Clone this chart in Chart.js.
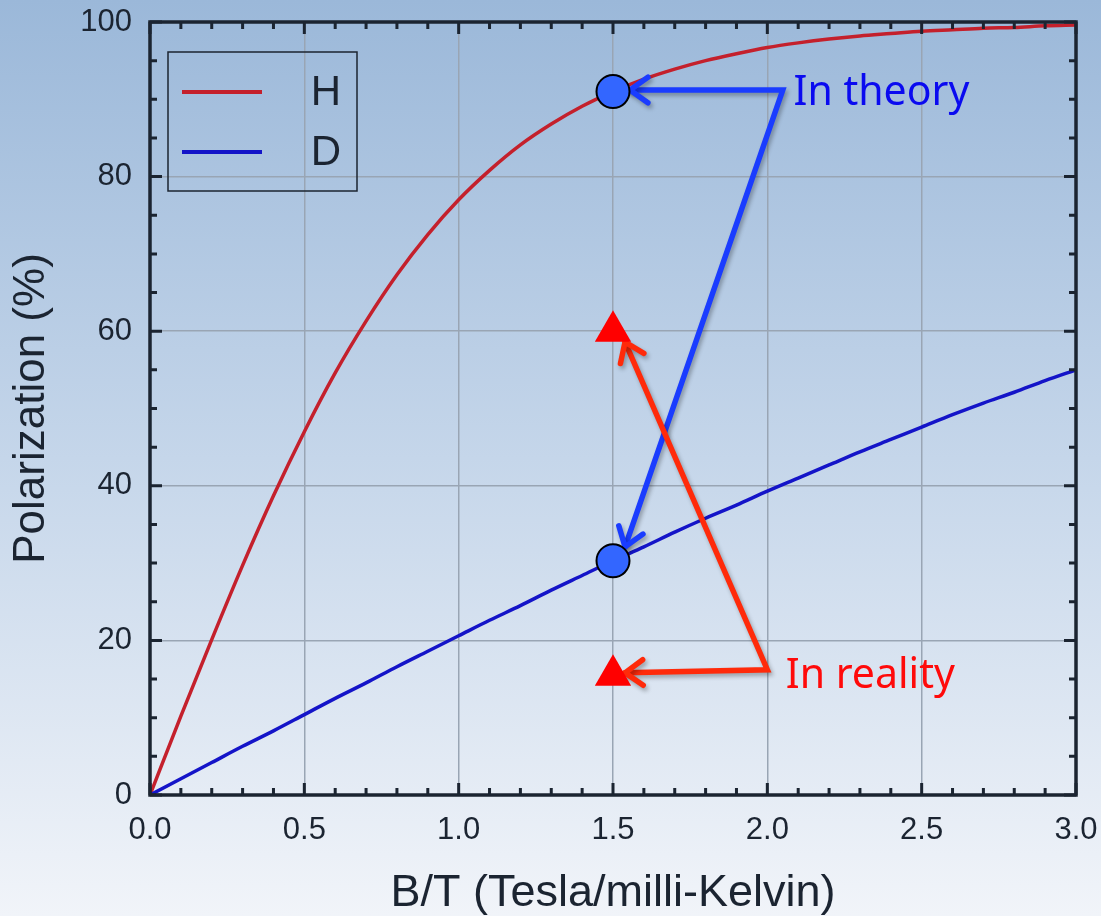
<!DOCTYPE html>
<html>
<head>
<meta charset="utf-8">
<script src="https://cdn.jsdelivr.net/npm/chart.js@4.4.1/dist/chart.umd.min.js"></script>
<style>
  html, body { margin: 0; padding: 0; background: #eef3f9; }
  #wrap { width: 1101px; height: 916px; }
</style>
</head>
<body>
<div id="wrap"><canvas id="polChart" width="1101" height="916"></canvas></div>
<script>
// B/T (Tesla per milli-Kelvin) and polarization (%) for H and D
const bt   = [0, 0.1, 0.2, 0.3, 0.4, 0.5, 0.6, 0.7, 0.8, 0.9, 1.0, 1.1, 1.2, 1.3, 1.4, 1.5,
              1.6, 1.7, 1.8, 1.9, 2.0, 2.1, 2.2, 2.3, 2.4, 2.5, 2.6, 2.7, 2.8, 2.9, 3.0];
const hPol = [0, 10.2, 20.1, 29.7, 38.7, 47.0, 54.6, 61.3, 67.3, 72.5, 77.0, 80.8, 84.1, 86.8, 89.1, 91.0,
              92.6, 93.9, 95.0, 95.9, 96.7, 97.3, 97.8, 98.2, 98.5, 98.8, 99.0, 99.2, 99.3, 99.5, 99.6];
const dPol = [0, 2.1, 4.2, 6.3, 8.3, 10.4, 12.5, 14.5, 16.6, 18.6, 20.6, 22.6, 24.5, 26.5, 28.4, 30.3,
              32.1, 34.0, 35.8, 37.5, 39.3, 41.0, 42.7, 44.4, 46.0, 47.6, 49.2, 50.7, 52.1, 53.6, 55.0];

// Marked points at 1.5 T/mK
const theoryB = [1.5, 1.5];
const theoryPol = [91.0, 30.3];
const realityB = [1.5, 1.5];
const realityPol = [60.0, 15.5];

// Axis ticks
const xTicks = [0, 0.5, 1.0, 1.5, 2.0, 2.5, 3.0];
const yTicks = [0, 20, 40, 60, 80, 100];

// Callout arrows (data units): tip, elbow, tip
const theoryArrow  = [[1.555, 91.2], [2.05, 91.2], [1.539, 32.1]];
const realityArrow = [[1.539, 15.8], [2.0, 16.2], [1.539, 58.6]];
const theoryLabel  = { text: 'In theory',  x: 2.085, y: 89.3, color: '#0a0af0' };
const realityLabel = { text: 'In reality', x: 2.06,  y: 13.8, color: '#ff0a0a' };

const INK = '#1b2431';
const AXIS_FONT = "'Liberation Sans', Arial, sans-serif";

const toXY = (xs, ys) => xs.map((x, i) => ({ x: x, y: ys[i] }));

// Slide style background
const background = {
    id: 'background',
    beforeDraw(chart) {
        const { ctx, width, height } = chart;
        const g = ctx.createLinearGradient(0, 0, 0, height);
        g.addColorStop(0, '#9bb8d9');
        g.addColorStop(0.5, '#c5d6ea');
        g.addColorStop(1, '#f1f4f9');
        ctx.save();
        ctx.fillStyle = g;
        ctx.fillRect(0, 0, width, height);
        ctx.restore();
    }
};

// Box around the plot with inward major/minor ticks on all four sides
const frame = {
    id: 'frame',
    afterDraw(chart) {
        const { ctx, chartArea: a, scales } = chart;
        ctx.save();
        ctx.strokeStyle = INK;
        ctx.lineWidth = 3;
        ctx.beginPath();
        for (let i = 0; i <= 30; i++) {
            const px = scales.x.getPixelForValue(i / 10);
            const len = i % 5 === 0 ? 12 : 7;
            ctx.moveTo(px, a.bottom); ctx.lineTo(px, a.bottom - len);
            ctx.moveTo(px, a.top); ctx.lineTo(px, a.top + len);
        }
        for (let i = 0; i <= 20; i++) {
            const py = scales.y.getPixelForValue(i * 5);
            const len = i % 4 === 0 ? 12 : 7;
            ctx.moveTo(a.left, py); ctx.lineTo(a.left + len, py);
            ctx.moveTo(a.right, py); ctx.lineTo(a.right - len, py);
        }
        ctx.stroke();
        ctx.lineWidth = 3.5;
        ctx.strokeRect(a.left, a.top, a.right - a.left, a.bottom - a.top);
        ctx.restore();
    }
};

// Legend box in the upper left corner of the plot
const legendBox = {
    id: 'legendBox',
    afterDraw(chart) {
        const { ctx, chartArea: a } = chart;
        const x0 = a.left + 18, y0 = a.top + 30;
        ctx.save();
        ctx.strokeStyle = INK;
        ctx.lineWidth = 1.5;
        ctx.strokeRect(x0, y0, 189, 139);
        ctx.font = "42px " + AXIS_FONT;
        ctx.fillStyle = INK;
        ctx.textAlign = 'center';
        ctx.textBaseline = 'middle';
        [0, 1].forEach((idx, row) => {
            const ds = chart.data.datasets[idx];
            const y = y0 + 40 + row * 60;
            ctx.strokeStyle = ds.borderColor;
            ctx.lineWidth = 4;
            ctx.beginPath();
            ctx.moveTo(x0 + 14, y);
            ctx.lineTo(x0 + 94, y);
            ctx.stroke();
            ctx.fillText(ds.label, x0 + 158, y + 1);
        });
        ctx.restore();
    }
};

function drawHead(ctx, from, tip) {
    const ang = Math.atan2(tip.y - from.y, tip.x - from.x);
    const len = 22, spread = 0.62;
    ctx.beginPath();
    ctx.moveTo(tip.x - len * Math.cos(ang - spread), tip.y - len * Math.sin(ang - spread));
    ctx.lineTo(tip.x, tip.y);
    ctx.lineTo(tip.x - len * Math.cos(ang + spread), tip.y - len * Math.sin(ang + spread));
    ctx.stroke();
}

function drawCallout(chart, pts, color, label) {
    const { ctx, scales } = chart;
    const p = pts.map(([x, y]) => ({ x: scales.x.getPixelForValue(x), y: scales.y.getPixelForValue(y) }));
    ctx.save();
    ctx.strokeStyle = color;
    ctx.lineWidth = 5.5;
    ctx.lineCap = 'round';
    ctx.lineJoin = 'miter';
    ctx.shadowColor = 'rgba(0, 0, 0, 0.3)';
    ctx.shadowBlur = 4;
    ctx.shadowOffsetX = 2;
    ctx.shadowOffsetY = 3;
    ctx.beginPath();
    ctx.moveTo(p[0].x, p[0].y);
    ctx.lineTo(p[1].x, p[1].y);
    ctx.lineTo(p[2].x, p[2].y);
    ctx.stroke();
    drawHead(ctx, p[1], p[0]);
    drawHead(ctx, p[1], p[2]);
    ctx.restore();

    ctx.save();
    ctx.font = "41px 'Noto Sans', 'Open Sans', sans-serif";
    ctx.fillStyle = label.color;
    ctx.textAlign = 'left';
    ctx.textBaseline = 'alphabetic';
    ctx.fillText(label.text, scales.x.getPixelForValue(label.x), scales.y.getPixelForValue(label.y));
    ctx.restore();
}

// Arrows go above the curves but under the point markers
const callouts = {
    id: 'callouts',
    afterDatasetDraw(chart, args) {
        if (args.index !== 1) return;
        drawCallout(chart, theoryArrow, '#1a3cff', theoryLabel);
        drawCallout(chart, realityArrow, '#ff2a0a', realityLabel);
    }
};

new Chart(document.getElementById('polChart'), {
    type: 'scatter',
    data: {
        datasets: [
            {
                label: 'H',
                data: toXY(bt, hPol),
                showLine: true,
                borderColor: '#c4202c',
                borderWidth: 3.5,
                pointRadius: 0,
                cubicInterpolationMode: 'monotone',
                order: 3
            },
            {
                label: 'D',
                data: toXY(bt, dPol),
                showLine: true,
                borderColor: '#1414c8',
                borderWidth: 3.5,
                pointRadius: 0,
                cubicInterpolationMode: 'monotone',
                order: 2
            },
            {
                label: 'theory',
                data: toXY(theoryB, theoryPol),
                pointStyle: 'circle',
                pointRadius: 16.5,
                backgroundColor: '#3366ff',
                borderColor: '#000000',
                borderWidth: 2,
                order: 1
            },
            {
                label: 'reality',
                data: toXY(realityB, realityPol),
                pointStyle: 'triangle',
                pointRadius: 21,
                backgroundColor: '#ff0000',
                borderColor: '#ff0000',
                borderWidth: 0,
                order: 0
            }
        ]
    },
    options: {
        responsive: false,
        animation: false,
        events: [],
        layout: { padding: { top: 22, right: 25, left: 0, bottom: 0 } },
        plugins: {
            legend: { display: false },
            tooltip: { enabled: false }
        },
        scales: {
            x: {
                type: 'linear',
                min: 0,
                max: 3,
                afterFit(scale) {
                    scale.height = 121;
                    scale.paddingLeft = 0;
                    scale.paddingRight = 0;
                },
                afterBuildTicks(scale) { scale.ticks = xTicks.map(v => ({ value: v })); },
                grid: { color: '#99a5b4', lineWidth: 1.5, drawTicks: false },
                border: { display: false },
                ticks: {
                    padding: 17,
                    color: INK,
                    font: { family: AXIS_FONT, size: 31 },
                    callback: v => v.toFixed(1)
                },
                title: {
                    display: true,
                    text: 'B/T (Tesla/milli-Kelvin)',
                    color: INK,
                    font: { family: AXIS_FONT, size: 45, lineHeight: 1 },
                    padding: { top: 0, bottom: 0 }
                }
            },
            y: {
                type: 'linear',
                min: 0,
                max: 100,
                afterFit(scale) {
                    scale.width = 150;
                    scale.paddingTop = 0;
                    scale.paddingBottom = 0;
                },
                afterBuildTicks(scale) { scale.ticks = yTicks.map(v => ({ value: v })); },
                grid: { color: '#99a5b4', lineWidth: 1.5, drawTicks: false },
                border: { display: false },
                ticks: {
                    padding: 18,
                    color: INK,
                    font: { family: AXIS_FONT, size: 31 }
                },
                title: {
                    display: true,
                    text: 'Polarization (%)',
                    color: INK,
                    font: { family: AXIS_FONT, size: 44, lineHeight: 1 },
                    padding: { top: 10, bottom: 0 }
                }
            }
        }
    },
    plugins: [background, callouts, legendBox, frame]
});
</script>
</body>
</html>
